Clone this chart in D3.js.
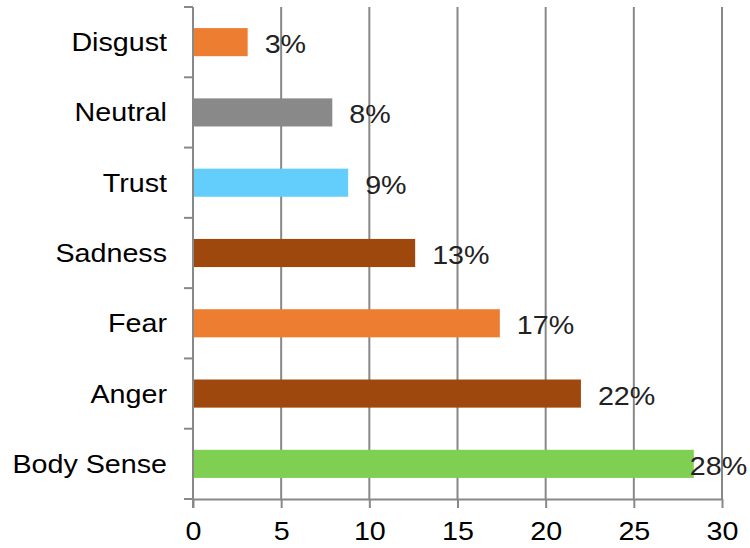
<!DOCTYPE html>
<html>
<head>
<meta charset="utf-8">
<script src="https://cdn.jsdelivr.net/npm/d3@7"></script>
<style>
  body { margin: 0; background: #fff; }
  text { font-family: "Liberation Sans", Arial, sans-serif; }
</style>
</head>
<body>
<svg id="chart" width="750" height="548"></svg>
<script>
const categories = ['Disgust', 'Neutral', 'Trust', 'Sadness', 'Fear', 'Anger', 'Body Sense'];
const values = [3.1, 7.9, 8.8, 12.6, 17.4, 22.0, 28.4];
const xTicks = [0, 5, 10, 15, 20, 25, 30];
const barColors = ['#ED7D31', '#898989', '#63CDFC', '#9E480E', '#ED7D31', '#9E480E', '#7FD052'];

const data = categories.map((c, i) => ({ label: c, value: values[i] }));

const margin = { top: 7, right: 28, bottom: 49, left: 193 };
const width = 750, height = 548;
const svg = d3.select('#chart');

const x = d3.scaleLinear().domain([0, 30]).range([margin.left, width - margin.right]);
const y = d3.scaleBand().domain(categories).range([margin.top, height - margin.bottom]).paddingInner(0.6).paddingOuter(0.3);
const color = d3.scaleOrdinal().domain(categories).range(barColors);

const axisColor = '#888';
const fontSize = 25.6;
const stretch = 1.12; // text in the picture is a bit wider than normal

function widen(sel) {
  sel.each(function () {
    const w = this.getComputedTextLength();
    d3.select(this).attr('textLength', w * stretch).attr('lengthAdjust', 'spacingAndGlyphs');
  });
}

// grid
svg.append('g')
  .selectAll('line')
  .data(xTicks.slice(1))
  .join('line')
  .attr('x1', d => x(d)).attr('x2', d => x(d))
  .attr('y1', margin.top).attr('y2', height - margin.bottom)
  .attr('stroke', axisColor).attr('stroke-width', 2);

// bars
svg.append('g')
  .selectAll('rect')
  .data(data)
  .join('rect')
  .attr('x', x(0))
  .attr('y', d => y(d.label))
  .attr('width', d => x(d.value) - x(0))
  .attr('height', y.bandwidth())
  .attr('fill', d => color(d.label));

// x axis
const xAxis = svg.append('g')
  .attr('transform', `translate(0,${height - margin.bottom})`)
  .call(d3.axisBottom(x).tickValues(xTicks).tickSize(9).tickPadding(14).tickSizeOuter(0));
xAxis.select('.domain').attr('stroke', axisColor).attr('stroke-width', 2);
xAxis.selectAll('.tick line').attr('stroke', axisColor).attr('stroke-width', 2);
xAxis.selectAll('.tick text')
  .attr('fill', '#000').attr('font-size', fontSize).attr('dy', '0.71em')
  .call(widen);

// y axis: ticks sit between the categories
const bandStep = (height - margin.bottom - margin.top) / categories.length;
const yAxisG = svg.append('g');
yAxisG.append('line')
  .attr('x1', x(0)).attr('x2', x(0))
  .attr('y1', margin.top).attr('y2', height - margin.bottom + 9)
  .attr('stroke', axisColor).attr('stroke-width', 2);
yAxisG.selectAll('line.tk')
  .data(d3.range(categories.length + 1))
  .join('line')
  .attr('class', 'tk')
  .attr('x1', x(0) - 9).attr('x2', x(0))
  .attr('y1', i => margin.top + i * bandStep)
  .attr('y2', i => margin.top + i * bandStep)
  .attr('stroke', axisColor).attr('stroke-width', 2);

yAxisG.selectAll('text')
  .data(data)
  .join('text')
  .attr('x', x(0) - 26)
  .attr('y', d => y(d.label) + y.bandwidth() / 2)
  .attr('dy', '0.35em')
  .attr('text-anchor', 'end')
  .attr('font-size', fontSize)
  .attr('fill', '#000')
  .text(d => d.label)
  .call(widen);

// value labels
svg.append('g')
  .selectAll('text')
  .data(data)
  .join('text')
  .attr('y', d => y(d.label) + y.bandwidth() / 2 + 2)
  .attr('dy', '0.35em')
  .attr('font-size', fontSize)
  .attr('fill', '#222')
  .text(d => Math.round(d.value) + '%')
  .call(widen)
  .each(function (d) {
    const w = this.getComputedTextLength() * stretch;
    let tx = x(d.value) + 17;
    if (tx + w > width - 2) tx = x(d.value) - 4;
    d3.select(this).attr('x', tx);
  });
</script>
</body>
</html>
